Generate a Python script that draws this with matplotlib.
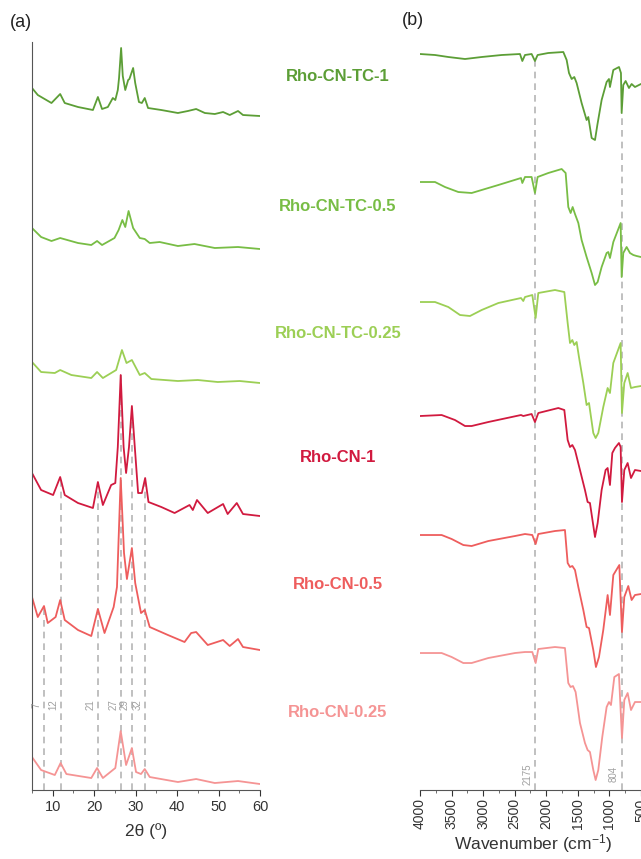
import matplotlib.pyplot as plt

plt.rcParams['font.family'] = ['Liberation Sans', 'DejaVu Sans']
plt.rcParams['mathtext.default'] = 'regular'

# ---- (a) XRD, intensity in a.u. (already stacked) ----
xrd_tc1_x = [5.0, 6.4, 9.7, 11.8, 12.9, 16.1, 19.7, 20.9, 21.9, 23.3, 24.5, 25.1, 25.7, 26.0, 26.5, 26.9,
             27.5, 28.2, 28.5, 29.4, 29.9, 30.8, 31.5, 32.2, 33.0, 36.2, 40.2, 42.6, 44.6, 46.7, 49.1,
             51.1, 52.7, 54.7, 55.9, 60.0]
xrd_tc1_y = [702, 695, 687, 696, 687, 683, 680, 693, 681, 683, 692, 690, 700, 712, 742, 714,
             700, 710, 711, 722, 707, 688, 687, 692, 682, 680, 677, 679, 681, 677, 676,
             678, 675, 679, 675, 674]

xrd_tc05_x = [5.0, 7.2, 9.7, 11.8, 16.1, 19.3, 20.7, 21.9, 24.9, 25.9, 26.8, 27.5, 28.3, 29.4, 31.0,
              32.2, 33.4, 35.8, 40.2, 44.2, 49.1, 54.7, 60.0]
xrd_tc05_y = [562, 553, 549, 552, 547, 545, 549, 545, 552, 560, 570, 563, 579, 562, 552,
              551, 547, 548, 544, 546, 542, 543, 541]

xrd_tc025_x = [5.0, 7.2, 10.5, 11.8, 14.5, 19.3, 20.7, 22.1, 25.3, 26.7, 27.8, 29.1, 31.0, 32.2,
               33.8, 40.2, 45.0, 49.8, 55.1, 60.0]
xrd_tc025_y = [428, 418, 417, 420, 415, 412, 418, 412, 420, 440, 427, 430, 415, 417,
               411, 409, 410, 408, 409, 407]

xrd_cn1_x = [5.0, 7.2, 10.1, 11.8, 12.9, 16.1, 19.7, 20.9, 22.1, 24.1, 25.1, 25.7, 26.4, 27.1, 27.7,
             28.4, 29.1, 29.8, 30.6, 31.5, 32.3, 33.1, 36.2, 39.4, 43.0, 43.8, 44.8, 47.4, 51.1,
             52.2, 54.4, 55.9, 60.0]
xrd_cn1_y = [317, 300, 295, 313, 295, 287, 282, 308, 285, 305, 307, 343, 415, 343, 317,
             343, 384, 343, 297, 297, 312, 288, 283, 277, 285, 280, 290, 277, 286,
             276, 287, 276, 274]

xrd_cn05_x = [5.0, 6.4, 7.9, 8.8, 10.7, 11.8, 12.9, 16.1, 19.3, 20.9, 22.5, 24.7, 25.5, 26.4, 27.2,
              27.9, 29.1, 29.9, 31.3, 32.2, 33.4, 37.8, 41.8, 43.4, 44.6, 47.4, 51.1, 52.7, 54.7,
              55.9, 60.0]
xrd_cn05_y = [193, 173, 184, 167, 173, 190, 170, 160, 154, 181, 157, 183, 203, 312, 237,
              211, 242, 207, 177, 180, 163, 155, 148, 157, 158, 145, 150, 144, 151,
              143, 140]

xrd_cn025_x = [5.0, 7.2, 10.5, 11.9, 13.3, 19.3, 20.7, 22.1, 25.1, 26.4, 27.7, 29.1, 30.1, 31.3,
               32.2, 33.4, 40.2, 44.6, 49.1, 54.7, 60.0]
xrd_cn025_y = [33, 20, 15, 27, 16, 12, 22, 12, 22, 59, 25, 42, 18, 16,
               21, 13, 8, 11, 7, 9, 6]

xrd_ref_pos = [7.9, 11.9, 20.9, 26.4, 29.1, 32.2]
xrd_ref_top = [184, 312, 308, 415, 384, 311]
xrd_ref_text = ['7', '12', '21', '27', '29', '32']

# ---- (b) FTIR, transmittance in a.u. (already stacked) ----
ir_tc1_x = [4000, 3762, 3551, 3287, 3023, 2707, 2416, 2379, 2337, 2232, 2179, 2137, 1968, 1730, 1677,
            1640, 1598, 1556, 1519, 1440, 1361, 1334, 1281, 1228, 1191, 1123, 1044, 1007, 991, 938,
            848, 817, 806, 780, 743, 690, 648, 595, 500]
ir_tc1_y = [736, 735, 733, 731, 733, 735, 736, 729, 735, 736, 729, 735, 737, 738, 730,
            717, 711, 713, 707, 687, 670, 673, 652, 650, 665, 690, 708, 711, 703, 720,
            723, 717, 677, 705, 709, 702, 706, 703, 706]

ir_tc05_x = [4000, 3762, 3604, 3393, 3182, 2759, 2400, 2379, 2337, 2232, 2179, 2137, 1968, 1756, 1693,
             1651, 1614, 1582, 1545, 1492, 1440, 1361, 1281, 1228, 1186, 1123, 1044, 1017, 991, 938,
             822, 806, 780, 727, 674, 621, 569, 500]
ir_tc05_y = [608, 608, 603, 598, 597, 605, 612, 607, 613, 613, 597, 613, 617, 621, 617,
             583, 577, 583, 576, 567, 550, 533, 517, 505, 508, 523, 537, 538, 532, 548,
             567, 513, 537, 543, 537, 535, 534, 533]

ir_tc025_x = [4000, 3762, 3551, 3366, 3208, 3023, 2759, 2400, 2364, 2337, 2221, 2168, 2126, 1862, 1714,
              1661, 1624, 1587, 1556, 1519, 1482, 1413, 1361, 1323, 1255, 1218, 1176, 1097, 1028, 991,
              938, 822, 801, 764, 711, 658, 595, 500]
ir_tc025_y = [488, 488, 483, 475, 474, 480, 487, 492, 489, 493, 495, 472, 497, 500, 498,
              467, 447, 450, 445, 448, 433, 407, 385, 387, 357, 352, 357, 383, 402, 397,
              427, 447, 377, 407, 417, 402, 403, 404]

ir_cn1_x = [4000, 3657, 3446, 3287, 3182, 2918, 2400, 2364, 2232, 2179, 2126, 1809, 1714, 1661, 1624,
            1587, 1545, 1466, 1387, 1345, 1308, 1228, 1186, 1123, 1060, 1028, 991, 954, 912, 849,
            822, 801, 764, 711, 658, 595, 500]
ir_cn1_y = [374, 375, 370, 364, 364, 368, 375, 374, 376, 368, 377, 382, 380, 350, 343,
            345, 340, 320, 300, 288, 287, 253, 267, 300, 320, 322, 305, 337, 342, 347,
            343, 288, 320, 327, 312, 320, 319]

ir_cn05_x = [4000, 3657, 3498, 3314, 3182, 2918, 2495, 2337, 2221, 2168, 2126, 1862, 1704, 1661, 1624,
             1587, 1545, 1492, 1413, 1361, 1323, 1255, 1213, 1165, 1097, 1028, 991, 938, 843, 801,
             764, 701, 648, 595, 500]
ir_cn05_y = [255, 255, 251, 245, 244, 249, 254, 256, 255, 246, 256, 259, 260, 227, 223,
             224, 220, 203, 180, 163, 162, 140, 123, 133, 160, 195, 175, 215, 225, 158,
             193, 204, 190, 195, 196]

ir_cn025_x = [4000, 3657, 3498, 3314, 3182, 2918, 2495, 2337, 2221, 2168, 2126, 1862, 1704, 1651, 1614,
              1577, 1535, 1466, 1387, 1345, 1308, 1255, 1218, 1176, 1113, 1044, 1007, 975, 922, 849,
              801, 764, 711, 658, 595, 500]
ir_cn025_y = [137, 137, 133, 127, 127, 132, 137, 138, 138, 127, 141, 143, 142, 107, 103,
              104, 98, 67, 47, 40, 38, 20, 10, 20, 53, 83, 88, 85, 113, 116,
              52, 90, 97, 80, 88, 88]

ir_ref_pos = [2175, 804]
ir_ref_top = [730, 677]
ir_ref_text = ['2175', '804']

samples = ['Rho-CN-TC-1', 'Rho-CN-TC-0.5', 'Rho-CN-TC-0.25', 'Rho-CN-1', 'Rho-CN-0.5', 'Rho-CN-0.25']
colors = ['#5c9e36', '#78bd45', '#9ccf55', '#d11a3f', '#ee5d5d', '#f59494']
label_y = [0.911, 0.760, 0.612, 0.467, 0.319, 0.171]

xrd_x = [xrd_tc1_x, xrd_tc05_x, xrd_tc025_x, xrd_cn1_x, xrd_cn05_x, xrd_cn025_x]
xrd_y = [xrd_tc1_y, xrd_tc05_y, xrd_tc025_y, xrd_cn1_y, xrd_cn05_y, xrd_cn025_y]
ir_x = [ir_tc1_x, ir_tc05_x, ir_tc025_x, ir_cn1_x, ir_cn05_x, ir_cn025_x]
ir_y = [ir_tc1_y, ir_tc05_y, ir_tc025_y, ir_cn1_y, ir_cn05_y, ir_cn025_y]

fig = plt.figure(figsize=(6.41, 8.59), dpi=100)
ax1 = fig.add_axes([0.0499, 0.0803, 0.3557, 0.8708])
ax2 = fig.add_axes([0.6552, 0.0803, 0.3546, 0.8708])

dash_col = '#b5b5b5'
ax_col = '#555555'

# (a)
for p, t in zip(xrd_ref_pos, xrd_ref_top):
    ax1.plot([p, p], [0, t], ls=(0, (4, 3)), color=dash_col, lw=1.2, zorder=1)
for p, s in zip(xrd_ref_pos, xrd_ref_text):
    ax1.text(p - 0.6, 85, s, rotation=90, ha='right', va='center', fontsize=7, color='#a0a0a0')
for xs, ys, c in zip(xrd_x, xrd_y, colors):
    ax1.plot(xs, ys, color=c, lw=1.3, zorder=2)
ax1.set_xlim(5, 60)
ax1.set_ylim(0, 748)
ax1.set_yticks([])
ax1.set_xticks([10, 20, 30, 40, 50, 60])
ax1.set_xticks(range(5, 61, 5), minor=True)
for s in ['top', 'right']:
    ax1.spines[s].set_visible(False)
for s in ['left', 'bottom']:
    ax1.spines[s].set_color(ax_col)
ax1.tick_params(axis='x', colors='#333333', labelsize=10.5, length=4, width=0.8)
ax1.tick_params(axis='x', which='minor', length=2.5, color=ax_col)
ax1.set_xlabel('2θ (º)', fontsize=12.5, color='#333333', labelpad=6)

# (b)
for p, t in zip(ir_ref_pos, ir_ref_top):
    ax2.plot([p, p], [0, t], ls=(0, (4, 3)), color=dash_col, lw=1.2, zorder=1)
for p, s in zip(ir_ref_pos, ir_ref_text):
    ax2.text(p + 45, 16, s, rotation=90, ha='right', va='center', fontsize=7, color='#a0a0a0')
for xs, ys, c in zip(ir_x, ir_y, colors):
    ax2.plot(xs, ys, color=c, lw=1.3, zorder=2)
ax2.set_xlim(4000, 400)
ax2.set_ylim(0, 748)
ax2.set_yticks([])
ax2.set_xticks(range(4000, 399, -500))
ax2.set_xticks(range(4000, 399, -250), minor=True)
for s in ['top', 'right', 'left']:
    ax2.spines[s].set_visible(False)
ax2.spines['bottom'].set_color(ax_col)
ax2.tick_params(axis='x', colors='#333333', labelsize=10, length=4, width=0.8, labelrotation=90, pad=2)
ax2.tick_params(axis='x', which='minor', length=2.5, color=ax_col)
ax2.set_xlabel('Wavenumber (cm$^{-1}$)', fontsize=12.5, color='#333333', labelpad=2)

# sample names between the panels
for name, c, yy in zip(samples, colors, label_y):
    fig.text(0.527, yy, name, color=c, fontsize=12, fontweight='bold', ha='center', va='center')

fig.text(0.016, 0.974, '(a)', fontsize=13, color='#222222', va='center')
fig.text(0.627, 0.976, '(b)', fontsize=13, color='#222222', va='center')

fig.savefig('out.png', dpi=100)
